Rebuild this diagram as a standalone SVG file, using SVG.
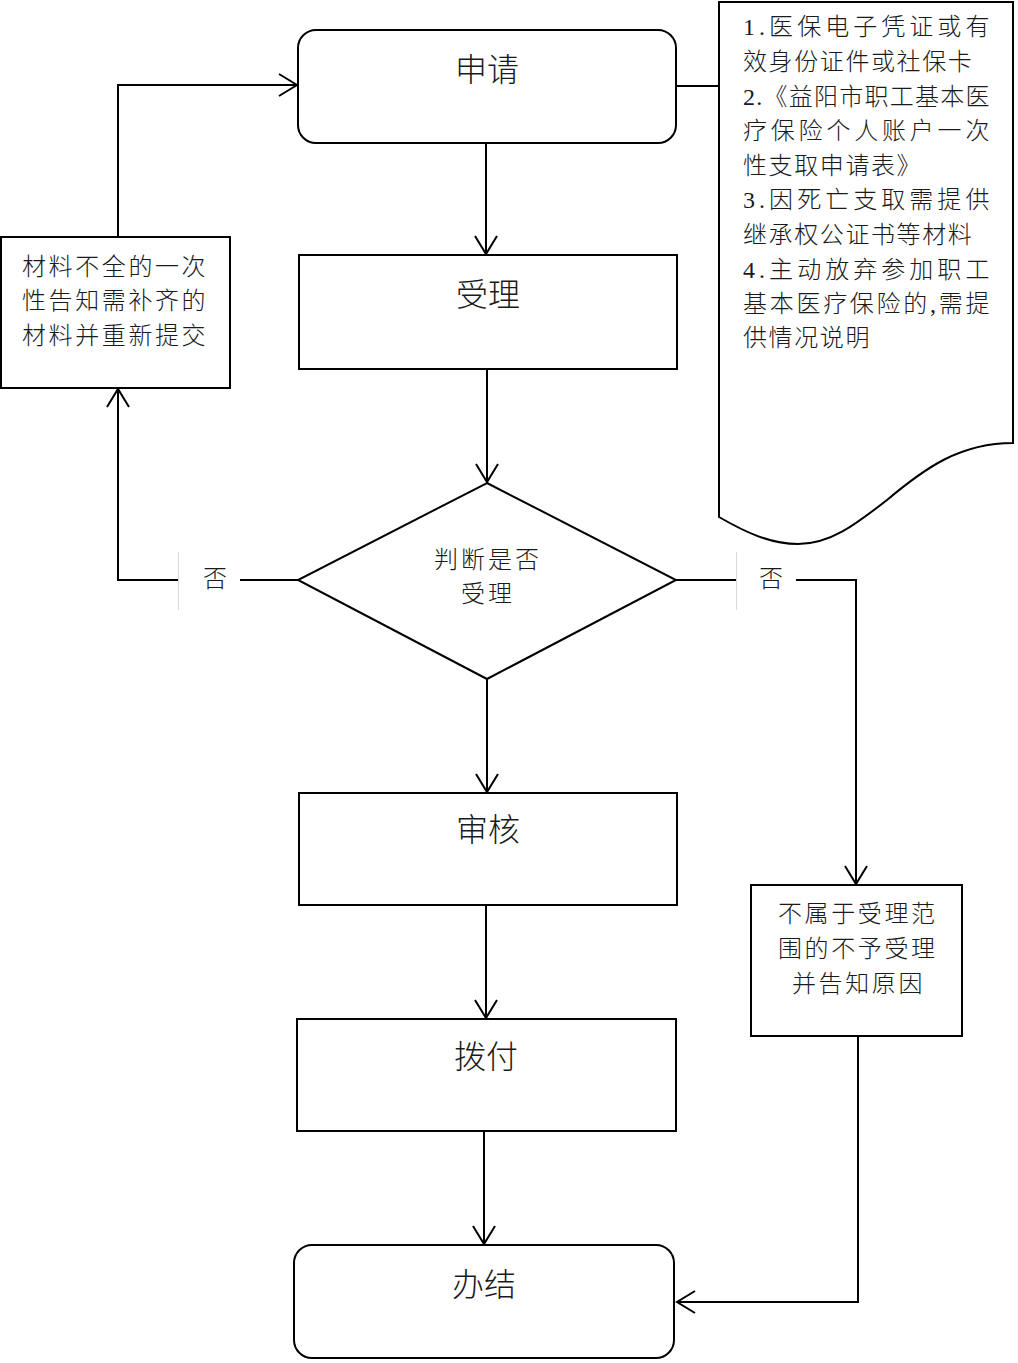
<svg xmlns="http://www.w3.org/2000/svg" width="1018" height="1363" viewBox="0 0 1018 1363">
<style>
.shape{fill:#fff;stroke:#000;stroke-width:2}
.conn{fill:none;stroke:#000;stroke-width:2}
.t{font-family:"Liberation Serif","Noto Sans CJK SC",serif;fill:#1a1a1a;font-weight:300;dominant-baseline:central}
.big{font-size:32px;text-anchor:middle}
.mid{font-size:24px;letter-spacing:2.6px}
.doc{font-size:24px;letter-spacing:1.6px}
.lbl{font-size:24px;text-anchor:middle}
.sep{stroke:#d9d9d9;stroke-width:1}
</style>
<defs>
<marker id="arr" markerUnits="userSpaceOnUse" markerWidth="24" markerHeight="24" viewBox="0 0 24 24" refX="22" refY="12" orient="auto">
<path d="M4,1 L22,12 L4,23" fill="none" stroke="#000" stroke-width="2"/>
</marker>
</defs>
<rect width="1018" height="1363" fill="#fff"/>
<g id="connectors">
<path class="conn" d="M486,143 V254" marker-end="url(#arr)"/>
<path class="conn" d="M487,369 V482" marker-end="url(#arr)"/>
<path class="conn" d="M487,679 V792" marker-end="url(#arr)"/>
<path class="conn" d="M486,905 V1018" marker-end="url(#arr)"/>
<path class="conn" d="M484,1131 V1244" marker-end="url(#arr)"/>
<path class="conn" d="M298,580 H240"/>
<path class="conn" d="M178,580 H118 V389" marker-end="url(#arr)"/>
<path class="conn" d="M118,237 V85 H297" marker-end="url(#arr)"/>
<path class="conn" d="M676,86 H720"/>
<path class="conn" d="M676,580 H736"/>
<path class="conn" d="M796,580 H856 V884" marker-end="url(#arr)"/>
<path class="conn" d="M858,1036 V1302 H677" marker-end="url(#arr)"/>
<g id="label-no-left">
<line class="sep" x1="178.5" y1="552" x2="178.5" y2="610"/>
<text class="t lbl" x="215" y="579">否</text>
</g>
<g id="label-no-right">
<line class="sep" x1="736.5" y1="552" x2="736.5" y2="610"/>
<text class="t lbl" x="771" y="579">否</text>
</g>
</g>
<g id="node-apply">
<rect class="shape" x="298" y="30" width="378" height="113" rx="18"/>
<text class="t big" x="487" y="70">申请</text>
</g>
<g id="node-accept">
<rect class="shape" x="299" y="255" width="378" height="114"/>
<text class="t big" x="488" y="295">受理</text>
</g>
<g id="node-decision">
<polygon class="shape" points="487,483 676,580 487,679 298,580"/>
<text class="t mid" x="434" y="560" style="letter-spacing:3px">判断是否</text>
<text class="t mid" x="461" y="594" style="letter-spacing:3px">受理</text>
</g>
<g id="node-review">
<rect class="shape" x="299" y="793" width="378" height="112"/>
<text class="t big" x="488" y="830">审核</text>
</g>
<g id="node-pay">
<rect class="shape" x="297" y="1019" width="379" height="112"/>
<text class="t big" x="486" y="1057">拨付</text>
</g>
<g id="node-finish">
<rect class="shape" x="294" y="1245" width="380" height="113" rx="18"/>
<text class="t big" x="484" y="1285">办结</text>
</g>
<g id="node-incomplete">
<rect class="shape" x="1" y="237" width="229" height="151"/>
<text class="t mid" x="22" y="267">材料不全的一次</text>
<text class="t mid" x="22" y="301">性告知需补齐的</text>
<text class="t mid" x="22" y="336">材料并重新提交</text>
</g>
<g id="node-reject">
<rect class="shape" x="751" y="885" width="211" height="151"/>
<text class="t mid" x="778" y="914">不属于受理范</text>
<text class="t mid" x="778" y="949">围的不予受理</text>
<text class="t mid" x="792" y="984">并告知原因</text>
</g>
<g id="node-materials">
<path class="shape" d="M719,2 H1013 V443 C960,443 925,468 887,500 C855,525 830,544 798,544 C770,544 745,532 719,517 Z"/>
<text class="t doc" x="743" y="27" textLength="248" lengthAdjust="spacing">1.医保电子凭证或有</text>
<text class="t doc" x="743" y="62">效身份证件或社保卡</text>
<text class="t doc" x="743" y="97" textLength="248" lengthAdjust="spacing">2.《益阳市职工基本医</text>
<text class="t doc" x="743" y="131" textLength="248" lengthAdjust="spacing">疗保险个人账户一次</text>
<text class="t doc" x="743" y="166">性支取申请表》</text>
<text class="t doc" x="743" y="200" textLength="248" lengthAdjust="spacing">3.因死亡支取需提供</text>
<text class="t doc" x="743" y="235">继承权公证书等材料</text>
<text class="t doc" x="743" y="270" textLength="248" lengthAdjust="spacing">4.主动放弃参加职工</text>
<text class="t doc" x="743" y="304" textLength="248" lengthAdjust="spacing">基本医疗保险的,需提</text>
<text class="t doc" x="743" y="338">供情况说明</text>
</g>
</svg>
